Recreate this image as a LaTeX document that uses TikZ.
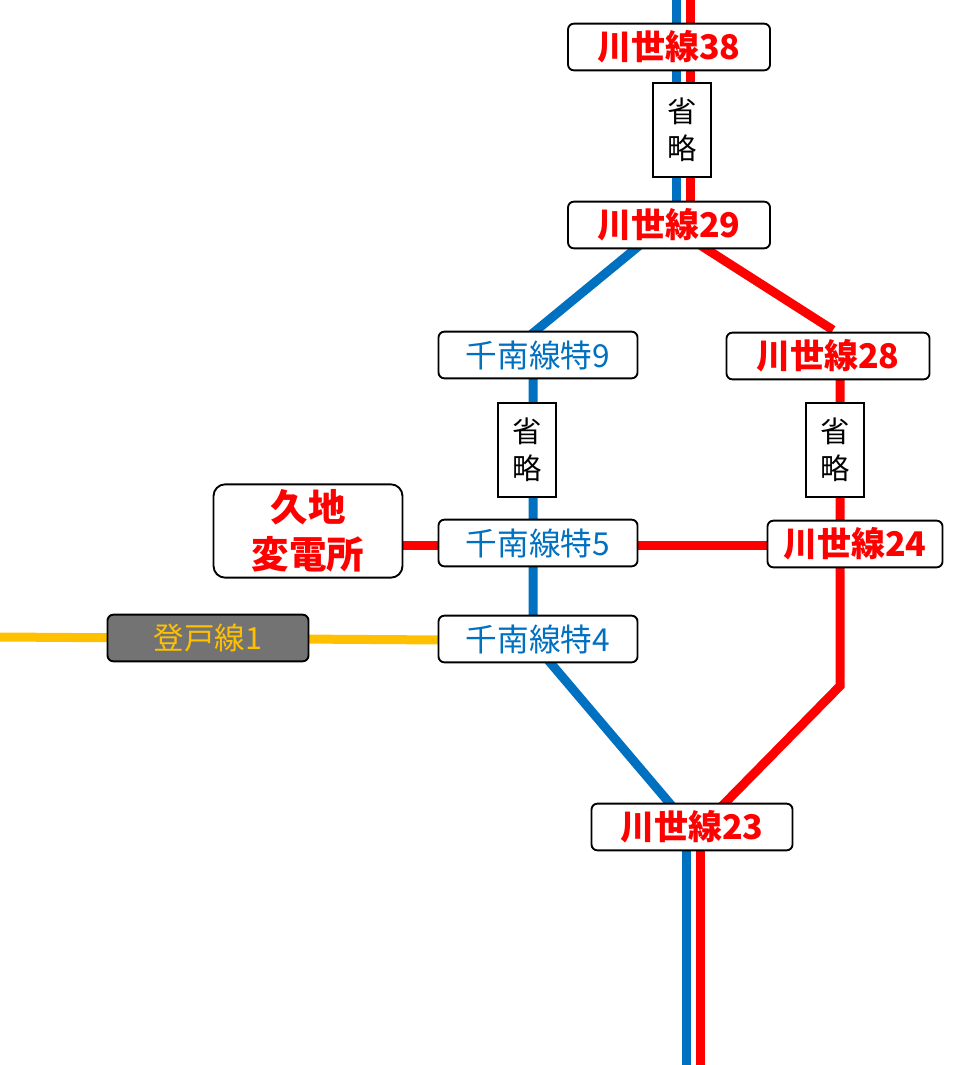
\documentclass[tikz,border=0pt]{standalone}
\usepackage{fontspec}
\newfontfamily\cjk{Noto Sans CJK JP}
\definecolor{linered}{RGB}{255,0,0}
\definecolor{lineblue}{RGB}{0,112,192}
\definecolor{lineorange}{RGB}{255,192,0}
\begin{document}
\begin{tikzpicture}[
        x=0.03cm, y=-0.03cm, % pixel grid
        font=\cjk\bfseries,
        line width=0.27cm
      ]

      \tikzstyle{station}=[rectangle,rounded corners=5pt,draw=black,line width=1.6pt,fill=white,
        minimum height=1.4cm,inner sep=0pt]
      \tikzstyle{omit}=[rectangle,draw=black,line width=1.6pt,fill=white,
        minimum width=1.75cm,minimum height=2.8cm,align=center,font=\cjk\fontsize{25}{32}\selectfont]
      \tikzstyle{redname}=[text=linered,font=\cjk\bfseries\fontsize{29}{32}\selectfont]
      \tikzstyle{bluename}=[text=lineblue,font=\cjk\fontsize{27}{30}\selectfont]

      \useasboundingbox (0,0) rectangle (973,1065);

      % trunk lines
      \draw[lineblue] (676,0) -- (676,210);
      \draw[linered] (690,0) -- (690,210);
      \draw[lineblue] (686,840) -- (686,1065);
      \draw[linered] (700,840) -- (700,1065);
      \draw[lineblue] (640,245) -- (533,333) -- (533,615);
      \draw[lineblue] (548,660) -- (672,806);
      \draw[linered] (700,245) -- (833,330);
      \draw[linered] (840,370) -- (840,686) -- (722,806);
      \draw[linered] (400,545) -- (445,545);
      \draw[linered] (635,545) -- (770,545);
      \draw[lineorange] (0,637) -- (445,640);

      \node[station,minimum width=6.06cm,redname] (k38) at (669,47) {川世線38};
      \node[omit] (o1) at (682,130) {省\\略};
      \node[station,minimum width=6.06cm,redname] (k29) at (669,225) {川世線29};
      \node[station,minimum width=5.97cm,bluename] (s9) at (538,355) {千南線特9};
      \node[station,minimum width=6.09cm,redname] (k28) at (828,356) {川世線28};
      \node[omit] (o2) at (527,450) {省\\略};
      \node[omit] (o3) at (835,450) {省\\略};
      \node[station,minimum width=5.67cm,minimum height=2.8cm,align=center,text=linered,
        rounded corners=10pt,font=\cjk\bfseries\fontsize{32}{40}\selectfont] (kuji) at (308,531) {久地\\変電所};
      \node[station,minimum width=5.97cm,bluename] (s5) at (538,543) {千南線特5};
      \node[station,minimum width=5.25cm,redname] (k24) at (855,544) {川世線24};
      \node[station,minimum width=5.97cm,bluename] (s4) at (538,639) {千南線特4};
      \node[station,minimum width=6.03cm,fill=black!55,text=lineorange,font=\cjk\fontsize{26}{30}\selectfont] (n1) at (208,638) {登戸線1};
      \node[station,minimum width=6.03cm,redname] (k23) at (692,827) {川世線23};

    \end{tikzpicture}
\end{document}
